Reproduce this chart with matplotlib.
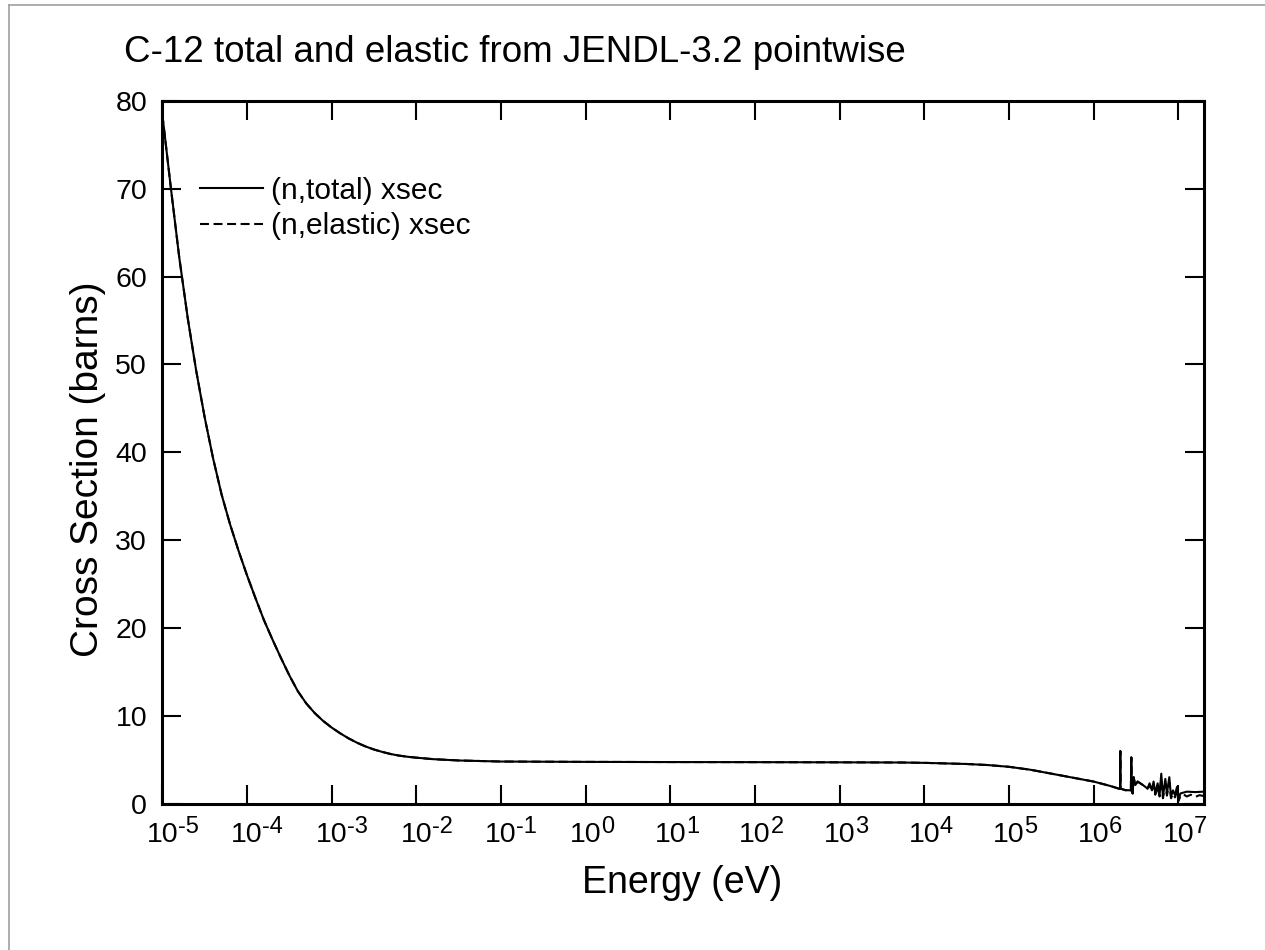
import matplotlib
matplotlib.use('Agg')
import matplotlib.pyplot as plt
import matplotlib.transforms as mtransforms
from matplotlib.lines import Line2D
import numpy as np

plt.rcParams['font.family'] = ['Liberation Sans', 'DejaVu Sans']

# energies are log10(E/eV), cross sections in barns
log_e_total = [-5.0, -4.9, -4.8, -4.7, -4.6, -4.5, -4.4, -4.3, -4.2, -4.1,
               -4.0, -3.9, -3.8, -3.7, -3.6, -3.5, -3.4, -3.3, -3.2, -3.1,
               -3.0, -2.9, -2.8, -2.7, -2.6, -2.5, -2.4, -2.3, -2.2, -2.1,
               -2.0, -1.8, -1.5, -1.0, 0.0, 1.0, 2.0, 3.0, 3.72, 4.0, 4.5,
               4.75, 5.0, 5.25, 5.49, 5.75, 6.0, 6.078, 6.196, 6.295, 6.313,
               6.315, 6.317, 6.374, 6.440, 6.445, 6.450, 6.461, 6.472, 6.492,
               6.520, 6.551, 6.583, 6.610, 6.637,
               6.661, 6.689, 6.708, 6.728, 6.756, 6.779, 6.799, 6.819, 6.847,
               6.866, 6.894, 6.914, 6.937, 6.961, 6.985, 7.004, 7.024, 7.1, 7.2, 7.3]
xs_total = [78.5, 70.2, 62.2, 55.3, 49.3, 44.0, 39.3, 35.2, 31.8, 28.8,
            26.0, 23.4, 20.9, 18.7, 16.6, 14.6, 12.8, 11.4, 10.3, 9.4,
            8.65, 8.0, 7.42, 6.92, 6.5, 6.15, 5.87, 5.63, 5.45, 5.32,
            5.22, 5.05, 4.9, 4.78, 4.74, 4.72, 4.71, 4.69, 4.67, 4.63, 4.5,
            4.38, 4.18, 3.85, 3.42, 2.95, 2.5, 2.3, 2.0, 1.7, 1.7,
            5.97, 1.7, 1.52, 1.5, 5.25, 1.4, 1.14, 3.0, 2.1,
            2.5, 2.3, 2.1, 1.9, 1.7,
            2.3, 1.5, 2.5, 1.14, 2.3, 0.95, 3.4, 0.76, 2.8,
            1.14, 3.0, 0.76, 1.5, 0.95, 1.9, 0.4, 1.14, 1.35, 1.3, 1.35]

# elastic equals total below the inelastic threshold
n_shared = 65
log_e_elastic_high = [6.661, 6.689, 6.708, 6.728, 6.756, 6.779, 6.799, 6.819, 6.847,
                      6.866, 6.894, 6.914, 6.937, 6.961, 6.985, 7.004, 7.024, 7.06,
                      7.1, 7.15, 7.2, 7.25, 7.3]
xs_elastic_high = [2.1, 1.4, 2.2, 1.0, 1.9, 0.8, 2.8, 0.6, 2.3,
                   0.9, 2.4, 0.6, 1.1, 0.7, 1.4, 0.3, 0.85, 1.05,
                   0.8, 1.0, 0.75, 0.95, 0.85]

x_exponents = [-5, -4, -3, -2, -1, 0, 1, 2, 3, 4, 5, 6, 7]
y_ticks = [0, 10, 20, 30, 40, 50, 60, 70, 80]

e_total = 10.0 ** np.array(log_e_total)
e_elastic = 10.0 ** np.array(log_e_total[:n_shared] + log_e_elastic_high)
xs_elastic = xs_total[:n_shared] + xs_elastic_high

fig = plt.figure(figsize=(12.65, 9.5), dpi=100)
ax = fig.add_axes([0.1283, 0.1542, 0.8233, 0.7395])

ax.plot(e_total, xs_total, color='black', lw=1.5, label='(n,total) xsec')
ax.plot(e_elastic, xs_elastic, color='black', lw=1.5, dashes=(4.3, 2.2),
        label='(n,elastic) xsec')

ax.set_xscale('log')
ax.set_xlim(1e-5, 2e7)
ax.set_ylim(0, 80)
ax.set_xticks([10.0 ** k for k in x_exponents])
ax.xaxis.set_minor_locator(matplotlib.ticker.NullLocator())
ax.set_yticks(y_ticks)
ax.set_yticklabels([str(v) for v in y_ticks])

for sp in ax.spines.values():
    sp.set_linewidth(2.2)
ax.tick_params(which='major', direction='in', length=13.5, width=1.5,
               top=True, right=True, labelsize=20.5, labelbottom=False)
ax.tick_params(axis='y', pad=11)

# x tick labels: "10" centred on the tick, hyphen exponent to the right
xt = ax.get_xaxis_transform()
base_off = mtransforms.ScaledTranslation(0, -0.385, fig.dpi_scale_trans)
exp_off = mtransforms.ScaledTranslation(0.155, -0.295, fig.dpi_scale_trans)
for k in x_exponents:
    ax.text(10.0 ** k, 0, '10', transform=xt + base_off, fontsize=20.5,
            ha='center', va='baseline', clip_on=False)
    ax.text(10.0 ** k, 0, str(k), transform=xt + exp_off, fontsize=17,
            ha='left', va='baseline', clip_on=False)

ax.legend(loc='upper left', bbox_to_anchor=(0.036, 0.892), frameon=False,
          fontsize=21.5, handlelength=2.1, handletextpad=0.3,
          borderpad=0, borderaxespad=0, labelspacing=0.25)

fig.text(124 / 1265, 1 - 62 / 950, 'C-12 total and elastic from JENDL-3.2 pointwise',
         fontsize=26.5, ha='left', va='baseline')
fig.text(682.5 / 1265, 1 - 893 / 950, 'Energy (eV)', fontsize=27,
         ha='center', va='baseline')
fig.text(88 / 1265, 1 - 469 / 950, 'Cross Section (barns)', fontsize=28,
         ha='center', va='center', rotation=90)

# page frame, cut off on right and bottom
fig.add_artist(Line2D([9 / 1265, 9 / 1265], [0, 1 - 5 / 950],
                      transform=fig.transFigure, color='#a0a0a0', lw=1.2))
fig.add_artist(Line2D([9 / 1265, 1], [1 - 5 / 950, 1 - 5 / 950],
                      transform=fig.transFigure, color='#a0a0a0', lw=1.2))

fig.savefig('out.png', dpi=100)
